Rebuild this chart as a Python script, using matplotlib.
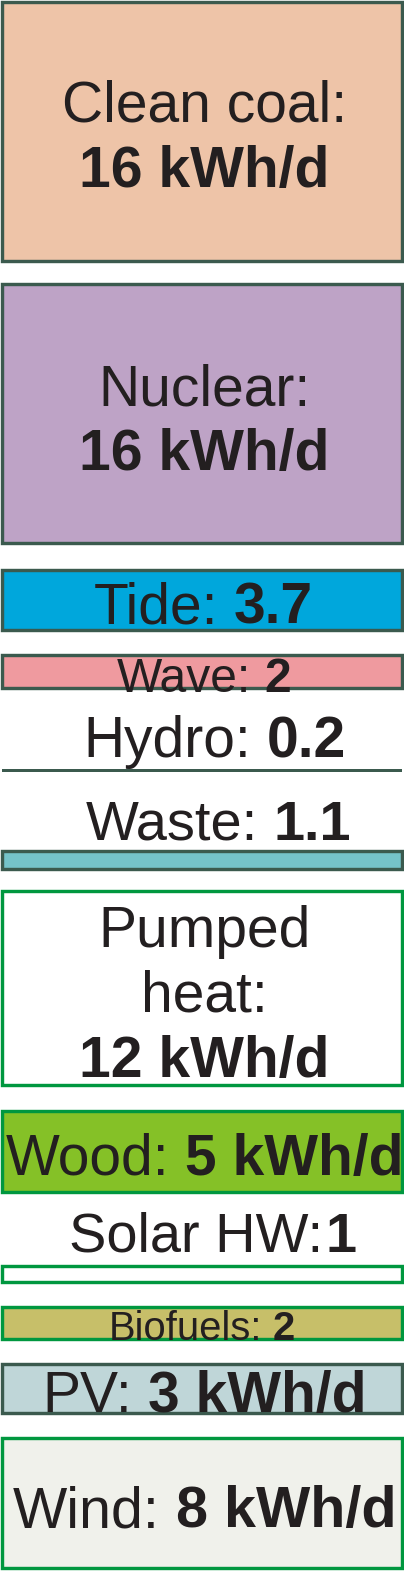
import matplotlib
matplotlib.use('Agg')
import matplotlib.pyplot as plt

# ---------------- data (top of the stack to bottom) ----------------
sources = ['Clean coal', 'Nuclear', 'Tide', 'Wave', 'Hydro', 'Waste',
           'Pumped heat', 'Wood', 'Solar HW', 'Biofuels', 'PV', 'Wind']
values = [16, 16, 3.7, 2, 0.2, 1.1, 12, 5, 1, 2, 3, 8]          # kWh/d per person
name_labels = ['Clean coal:', 'Nuclear:', 'Tide:', 'Wave:', 'Hydro:', 'Waste:',
               'Pumped\nheat:', 'Wood:', 'Solar HW:', 'Biofuels:', 'PV:', 'Wind:']
value_labels = ['16 kWh/d', '16 kWh/d', '3.7', '2', '0.2', '1.1',
                '12 kWh/d', '5 kWh/d', '1', '2', '3 kWh/d', '8 kWh/d']
separators = [' ', ' ', ' ', ' ', ' ', ' ', ' ', ' ', '', ' ', ' ', ' ']

# ---------------- styles / layout ----------------
DARK = '#3b5a4e'
GREEN = '#00973f'
TXT = '#231f20'
fill_colors = ['#eec4a8', '#bea3c6', '#00a7dc', '#ef9a9f', DARK, '#75c3c9',
               '#ffffff', '#85c127', '#ffffff', '#c7bf69', '#bfd6d8', '#f0f1eb']
edge_colors = [DARK, DARK, DARK, DARK, DARK, DARK,
               GREEN, GREEN, GREEN, GREEN, DARK, GREEN]
# vertical gap (pixels) left after each block
gaps_px = [23, 27, 25, 81.5, 79, 21.6, 25.5, 74, 24.75, 25.5, 25.25, 0]
first_top_px = 1.8
# text layout: (center x px, baseline px of last line, font px, two-line?)
label_cx = [204.5, 204.5, 203, 203.5, 215, 218, 204.5, 205, 213, 202, 204, 204.5]
label_base = [187, 470, 623, 692, 757, 840, 1077, 1175, 1252, 1340, 1412, 1527]
label_px = [57, 57, 57, 48, 57, 56, 57, 57, 56, 40, 57, 57.5]
stacked_lines = [True, True, False, False, False, False, True,
                 False, False, False, False, False]
LINE_STEP = 65  # px between lines

W, H, DPI = 404, 1573, 100
U = 16.2  # pixels per kWh/d
LW_PX = 3.4

fig = plt.figure(figsize=(W / DPI, H / DPI), dpi=DPI)
ax = fig.add_axes([0, 0, 1, 1])
ax.set_xlim(0, W)
ax.set_ylim(H / U, 0)   # y axis in kWh/d, stack runs downward
ax.axis('off')

FONT = 'Liberation Sans'

cursor = first_top_px / U
for i, v in enumerate(values):
    is_line = v < 0.5
    ax.bar(W / 2, v, width=W - LW_PX, bottom=cursor, align='center',
           color=fill_colors[i],
           edgecolor=edge_colors[i] if not is_line else 'none',
           linewidth=0 if is_line else LW_PX * 72 / DPI,
           clip_on=False, zorder=1)
    cursor += v + gaps_px[i] / U

renderer = fig.canvas.get_renderer()


def put_mixed(xc, base_px, parts, sep, size_px):
    size_pt = size_px * 72 / DPI
    texts, widths = [], []
    for s, bold in parts:
        t = ax.text(0, base_px / U, s, fontsize=size_pt, family=FONT,
                    fontweight='bold' if bold else 'normal', color=TXT,
                    ha='left', va='baseline', zorder=3, clip_on=False)
        texts.append(t)
        widths.append(t.get_window_extent(renderer).width)
    gap = 0.278 * size_px if sep == ' ' else 0.05 * size_px
    total = sum(widths) + gap * (len(parts) - 1)
    x = xc - total / 2
    for t, w in zip(texts, widths):
        t.set_x(x)
        x += w + gap


for i in range(len(values)):
    size_px = label_px[i]
    size_pt = size_px * 72 / DPI
    if stacked_lines[i]:
        lines = name_labels[i].split('\n')
        n = len(lines)
        for k, ln in enumerate(lines):
            b = label_base[i] - (n - k) * LINE_STEP
            ax.text(label_cx[i], b / U, ln, fontsize=size_pt, family=FONT,
                    color=TXT, ha='center', va='baseline', zorder=3)
        ax.text(label_cx[i], label_base[i] / U, value_labels[i], fontsize=size_pt,
                family=FONT, fontweight='bold', color=TXT, ha='center',
                va='baseline', zorder=3)
    else:
        put_mixed(label_cx[i], label_base[i],
                  [(name_labels[i], False), (value_labels[i], True)],
                  separators[i], size_px)

fig.savefig('out.png', dpi=DPI)
